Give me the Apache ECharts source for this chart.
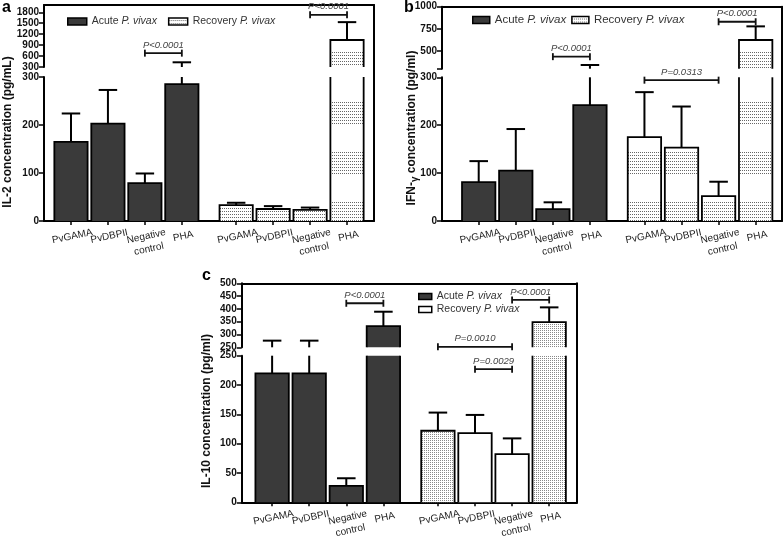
<!DOCTYPE html>
<html>
<head>
<meta charset="utf-8">
<script src="https://cdn.jsdelivr.net/npm/echarts@6/dist/echarts.min.js"></script>
<style>
  html, body { margin: 0; padding: 0; background: #fff; }
  #chart { width: 784px; height: 537px; }
</style>
</head>
<body>
<div id="chart"></div>
<script>
// categories + x positions (two groups of four, wider gap between groups)
const categories = ['PvGAMA', 'PvDBPII', 'Negative\ncontrol', 'PHA'];
const xLabels = categories.concat(categories);
const xPos = [0, 1, 2, 3, 4.47, 5.47, 6.47, 7.47];
const seriesNames = ['Acute P. vivax', 'Recovery P. vivax'];

// a - IL-2
const il2Acute = [165, 203, 79, 285];
const il2AcuteSd = [59, 70, 20, 144];
const il2Recovery = [33, 25, 23, 1040];
const il2RecoverySd = [5, 6, 5, 490];
const il2TicksLower = [0, 100, 200, 300];
const il2TicksUpper = [300, 600, 900, 1200, 1500, 1800];
const il2LabelsUpper = [300, 600, 900, 1200, 1500, 1800];
// [bar i, bar j, height, label]
const il2Brackets = [[2, 3, 680, 'P<0.0001'], [6, 7, 1730, 'P<0.0001']];

// b - IFN-gamma
const ifnAcute = [81, 105, 25, 242];
const ifnAcuteSd = [44, 87, 14, 100];
const ifnRecovery = [175, 153, 52, 624];
const ifnRecoverySd = [94, 86, 30, 154];
const ifnTicksLower = [0, 100, 200, 300];
const ifnTicksUpper = [300, 500, 750, 1000];
const ifnLabelsUpper = [500, 750, 1000];
const ifnBrackets = [[2, 3, 436, 'P<0.0001'], [4, 6, 294, 'P=0.0313'], [6, 7, 830, 'P<0.0001']];

// c - IL-10
const il10Acute = [220, 220, 28, 333];
const il10AcuteSd = [56, 56, 13, 56];
const il10Recovery = [122, 118, 82, 348];
const il10RecoverySd = [31, 31, 27, 58];
const il10TicksLower = [0, 50, 100, 150, 200, 250];
const il10TicksUpper = [250, 300, 350, 400, 450, 500];
const il10LabelsUpper = [250, 300, 350, 400, 450, 500];
const il10Brackets = [[2, 3, 422, 'P<0.0001'], [6, 7, 435, 'P<0.0001'], [4, 6, 252, 'P=0.0010'], [5, 6, 227, 'P=0.0029']];

const FONT = '"Liberation Sans", Arial, sans-serif';
const BAR_W = 0.9;   // in x units
const CAP_W = 0.5;

// dotted fills like the graphpad hatch
function makePattern(kind) {
    const c = document.createElement('canvas');
    const ctx = c.getContext('2d');
    if (kind === 'dense') {
        c.width = 2; c.height = 2;
        ctx.fillStyle = '#fff'; ctx.fillRect(0, 0, 2, 2);
        ctx.fillStyle = '#888'; ctx.fillRect(0, 0, 1, 1);
    } else {
        c.width = 2; c.height = 50;
        ctx.fillStyle = '#fff'; ctx.fillRect(0, 0, 2, 50);
        ctx.fillStyle = '#666';
        for (let y = 2; y < 26; y += 3) ctx.fillRect(0, y, 1, 1);
    }
    return { type: 'pattern', image: c, repeat: 'repeat' };
}
const fills = { band: makePattern('band'), dense: makePattern('dense'), plain: '#fff' };

const panels = [
    {
        acute: il2Acute, acuteSd: il2AcuteSd, recovery: il2Recovery, recoverySd: il2RecoverySd,
        brackets: il2Brackets, lowerRange: [0, 300], upperRange: [300, 2000],
        lowerTicks: il2TicksLower, upperTicks: il2TicksUpper, upperLabels: il2LabelsUpper,
        left: 44, width: 330, upperTop: 5, upperH: 62, lowerTop: 77, lowerH: 144,
        xMin: -0.73, xMax: 8.2, recFill: ['band', 'band', 'band', 'band']
    },
    {
        acute: ifnAcute, acuteSd: ifnAcuteSd, recovery: ifnRecovery, recoverySd: ifnRecoverySd,
        brackets: ifnBrackets, lowerRange: [0, 300], upperRange: [300, 1000],
        lowerTicks: ifnTicksLower, upperTicks: ifnTicksUpper, upperLabels: ifnLabelsUpper,
        left: 442, width: 340, upperTop: 6.7, upperH: 62, lowerTop: 77.3, lowerH: 143.7,
        xMin: -0.99, xMax: 8.18, recFill: ['band', 'band', 'band', 'band']
    },
    {
        acute: il10Acute, acuteSd: il10AcuteSd, recovery: il10Recovery, recoverySd: il10RecoverySd,
        brackets: il10Brackets, lowerRange: [0, 250], upperRange: [250, 500],
        lowerTicks: il10TicksLower, upperTicks: il10TicksUpper, upperLabels: il10LabelsUpper,
        left: 241.7, width: 335.3, upperTop: 283.3, upperH: 64, lowerTop: 355.7, lowerH: 146.6,
        xMin: -0.82, xMax: 8.22, recFill: ['dense', 'plain', 'plain', 'dense']
    }
];

const axisLineStyle = { color: '#000', width: 2 };
const yLabelStyle = {
    fontSize: 10, fontWeight: 'bold', color: '#111', fontFamily: FONT, margin: 5,
    showMinLabel: true, showMaxLabel: true, formatter: v => String(v)
};

function barSeries(p, range, xi, gi) {
    const vals = gi === 0 ? p.acute : p.recovery;
    const sds = gi === 0 ? p.acuteSd : p.recoverySd;
    return {
        type: 'custom', name: seriesNames[gi], xAxisIndex: xi, yAxisIndex: xi,
        clip: false, silent: true, z: 3,
        encode: { x: 0, y: 1 },
        data: vals.map((v, i) => [xPos[i + gi * 4], v, sds[i]]),
        renderItem: function (params, api) {
            const i = params.dataIndex;
            const x = api.value(0), v = api.value(1), e = v + api.value(2);
            const lo = range[0], hi = range[1];
            const w = api.size([BAR_W, 0])[0];
            const cw = api.size([CAP_W, 0])[0];
            const base = api.coord([x, lo]);
            const cx = base[0], l = cx - w / 2, r = cx + w / 2;
            const kids = [];
            const line = { stroke: '#000', lineWidth: 1.8, fill: null };
            if (v > lo) {
                const yt = api.coord([x, Math.min(v, hi)])[1];
                const fill = gi === 0 ? '#3a3a3a' : fills[p.recFill[i]];
                kids.push({ type: 'rect', shape: { x: l, y: yt, width: w, height: base[1] - yt }, style: { fill: fill } });
                if (v > hi) {
                    kids.push({ type: 'line', shape: { x1: l, y1: base[1], x2: l, y2: yt }, style: line });
                    kids.push({ type: 'line', shape: { x1: r, y1: base[1], x2: r, y2: yt }, style: line });
                } else {
                    kids.push({ type: 'polyline', shape: { points: [[l, base[1]], [l, yt], [r, yt], [r, base[1]]] }, style: line });
                }
            }
            // upper error whisker
            if (e > lo && v < hi) {
                const y0 = api.coord([x, Math.max(v, lo)])[1];
                const y1 = api.coord([x, Math.min(e, hi)])[1];
                kids.push({ type: 'line', shape: { x1: cx, y1: y0, x2: cx, y2: y1 }, style: { stroke: '#000', lineWidth: 2 } });
                if (e <= hi) {
                    kids.push({ type: 'line', shape: { x1: cx - cw / 2, y1: y1, x2: cx + cw / 2, y2: y1 }, style: { stroke: '#000', lineWidth: 2 } });
                }
            }
            return { type: 'group', children: kids };
        }
    };
}

function bracketSeries(p, range, xi) {
    const list = p.brackets.filter(b => b[2] > range[0] && b[2] <= range[1]);
    return {
        type: 'custom', xAxisIndex: xi, yAxisIndex: xi, clip: false, silent: true, z: 4,
        encode: { x: [0, 1], y: 2 },
        data: list.map(b => [xPos[b[0]], xPos[b[1]], b[2]]),
        renderItem: function (params, api) {
            const b = list[params.dataIndex];
            const p1 = api.coord([api.value(0), api.value(2)]);
            const p2 = api.coord([api.value(1), api.value(2)]);
            const st = { stroke: '#111', lineWidth: 1.8 };
            return {
                type: 'group', children: [
                    { type: 'line', shape: { x1: p1[0], y1: p1[1], x2: p2[0], y2: p2[1] }, style: st },
                    { type: 'line', shape: { x1: p1[0], y1: p1[1] - 3.5, x2: p1[0], y2: p1[1] + 3.5 }, style: st },
                    { type: 'line', shape: { x1: p2[0], y1: p2[1] - 3.5, x2: p2[0], y2: p2[1] + 3.5 }, style: st },
                    {
                        type: 'text', x: (p1[0] + p2[0]) / 2, y: p1[1] - 8,
                        style: { text: b[3], fill: '#444', font: 'italic 9.5px ' + FONT, align: 'center', verticalAlign: 'middle' }
                    }
                ]
            };
        }
    };
}

const grid = [], xAxis = [], yAxis = [], series = [];
panels.forEach((p, pi) => {
    const b = pi * 3;
    grid.push({ left: p.left, top: p.upperTop, width: p.width, height: p.upperH, outerBoundsMode: 'none' });
    grid.push({ left: p.left, top: p.lowerTop, width: p.width, height: p.lowerH, outerBoundsMode: 'none' });
    grid.push({ left: p.left, top: p.upperTop, width: p.width, height: p.lowerTop + p.lowerH - p.upperTop, outerBoundsMode: 'none' });

    xAxis.push({
        gridIndex: b, type: 'value', min: p.xMin, max: p.xMax, position: 'top',
        axisLine: { show: true, onZero: false, lineStyle: axisLineStyle },
        axisTick: { show: false }, axisLabel: { show: false }, splitLine: { show: false }
    });
    // empty labels at the axis ends keep the min/max overlap check from hiding real labels
    const labelVals = [p.xMin].concat(xPos, [p.xMax]);
    xAxis.push({
        gridIndex: b + 1, type: 'value', min: p.xMin, max: p.xMax, position: 'bottom',
        axisLine: { show: true, onZero: false, lineStyle: axisLineStyle },
        axisTick: { show: true, customValues: xPos, length: 4, lineStyle: { color: '#000', width: 1.5 } },
        axisLabel: {
            show: true, customValues: labelVals, rotate: 12, align: 'center', verticalAlign: 'top',
            showMinLabel: true, showMaxLabel: true, hideOverlap: false,
            margin: 9, fontSize: 10, lineHeight: 13, color: '#222', fontFamily: FONT,
            formatter: function (v) {
                const i = xPos.findIndex(t => Math.abs(t - v) < 1e-6);
                return i < 0 ? '' : xLabels[i];
            }
        },
        splitLine: { show: false }
    });
    xAxis.push({ gridIndex: b + 2, type: 'value', min: 0, max: 1, show: false });

    yAxis.push({
        gridIndex: b, type: 'value', min: p.upperRange[0], max: p.upperRange[1],
        axisLine: { show: true, onZero: false, lineStyle: axisLineStyle },
        axisTick: { show: true, customValues: p.upperTicks, length: 5, lineStyle: { color: '#000', width: 1.5 } },
        axisLabel: Object.assign({ show: true, customValues: p.upperLabels }, yLabelStyle),
        splitLine: { show: false }
    });
    yAxis.push({
        gridIndex: b + 1, type: 'value', min: p.lowerRange[0], max: p.lowerRange[1],
        axisLine: { show: true, onZero: false, lineStyle: axisLineStyle },
        axisTick: { show: true, customValues: p.lowerTicks, length: 5, lineStyle: { color: '#000', width: 1.5 } },
        axisLabel: Object.assign({ show: true, customValues: p.lowerTicks }, yLabelStyle),
        splitLine: { show: false }
    });
    yAxis.push({
        gridIndex: b + 2, type: 'value', min: 0, max: 1, position: 'right',
        axisLine: { show: true, onZero: false, lineStyle: axisLineStyle },
        axisTick: { show: false }, axisLabel: { show: false }, splitLine: { show: false }
    });

    [[p.upperRange, b], [p.lowerRange, b + 1]].forEach(([range, xi]) => {
        series.push(barSeries(p, range, xi, 0));
        series.push(barSeries(p, range, xi, 1));
        series.push(bracketSeries(p, range, xi));
    });
});

const legendRich = (fs) => ({
    n: { fontSize: fs, color: '#333', fontFamily: FONT },
    i: { fontSize: fs, color: '#333', fontFamily: FONT, fontStyle: 'italic' }
});
const legendFmt = name => name.replace(/^(\w+) (P\. vivax)$/, '{n|$1 }{i|$2}');
function legendData(recFill) {
    return [
        { name: seriesNames[0], icon: 'rect', itemStyle: { color: '#3a3a3a', borderColor: '#000', borderWidth: 1.5 } },
        { name: seriesNames[1], icon: 'rect', itemStyle: { color: recFill, borderColor: '#000', borderWidth: 1.5 } }
    ];
}

const legend = [
    {
        left: 67, top: 16, padding: 0, itemWidth: 19, itemHeight: 7, itemGap: 11, selectedMode: false,
        data: legendData(fills.band), formatter: legendFmt, textStyle: { rich: legendRich(10.5) }
    },
    {
        left: 472, top: 14, padding: 0, itemWidth: 17, itemHeight: 7, itemGap: 5, selectedMode: false,
        data: legendData(fills.band), formatter: legendFmt, textStyle: { rich: legendRich(11.5) }
    },
    {
        left: 418, top: 291, padding: 0, orient: 'vertical', itemWidth: 13, itemHeight: 6, itemGap: 2, selectedMode: false,
        data: legendData('#fff'), formatter: legendFmt, textStyle: { rich: legendRich(10.5) }
    }
];

const titleFont = 'bold 12px ' + FONT;
const graphic = [
    { type: 'text', x: 2, y: 0, style: { text: 'a', font: 'bold 16px ' + FONT, fill: '#000' } },
    { type: 'text', x: 404, y: 0, style: { text: 'b', font: 'bold 16px ' + FONT, fill: '#000' } },
    { type: 'text', x: 202, y: 268, style: { text: 'c', font: 'bold 16px ' + FONT, fill: '#000' } },
    {
        type: 'text', x: 8, y: 132, rotation: Math.PI / 2,
        style: { text: 'IL-2 concentration (pg/mL)', font: titleFont, fill: '#111', align: 'center', verticalAlign: 'middle' }
    },
    {
        type: 'text', x: 412, y: 128, rotation: Math.PI / 2,
        style: {
            text: '{n|IFN-}{s|γ}{n| concentration (pg/ml)}', align: 'center', verticalAlign: 'middle',
            rich: {
                n: { font: titleFont, fill: '#111', lineHeight: 16, verticalAlign: 'middle' },
                s: { font: 'bold 10px ' + FONT, fill: '#111', lineHeight: 16, verticalAlign: 'bottom', padding: [6, 0, 0, 0] }
            }
        }
    },
    {
        type: 'text', x: 207, y: 411, rotation: Math.PI / 2,
        style: { text: 'IL-10 concentration (pg/ml)', font: titleFont, fill: '#111', align: 'center', verticalAlign: 'middle' }
    }
];

const myChart = echarts.init(document.getElementById('chart'));
myChart.setOption({
    animation: false,
    backgroundColor: '#fff',
    grid: grid,
    xAxis: xAxis,
    yAxis: yAxis,
    legend: legend,
    graphic: graphic,
    series: series
});
</script>
</body>
</html>
